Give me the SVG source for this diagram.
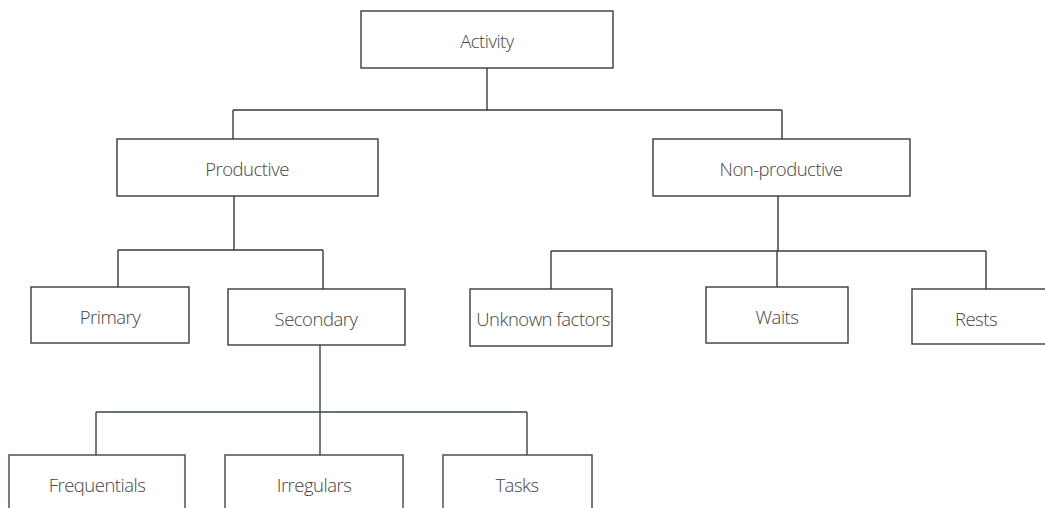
<svg xmlns="http://www.w3.org/2000/svg" width="1045" height="508" viewBox="0 0 1045 508">
  <style>
    .box { fill: #ffffff; stroke: #3a3a3a; stroke-width: 1.4; }
    .box.low { stroke: #35493f; }
    .lbl { font-family: "Open Sans", "Liberation Sans", sans-serif; font-size: 18.5px; font-weight: 300; letter-spacing: -0.5px; fill: #444444; text-anchor: middle; dominant-baseline: central; }
    .wire { fill: none; stroke: #3a3a3a; stroke-width: 1.4; }
    .wire.low { stroke: #35493f; }
  </style>
  <rect width="1045" height="508" fill="#ffffff"/>

  <!-- connectors -->
  <g id="connectors">
    <path class="wire" d="M487,68 V110 M233,110 H782 M233,110 V139 M782,110 V139"/>
    <path class="wire" d="M234,196 V250 M118,250 H323 M118,250 V287 M323,250 V289"/>
    <path class="wire" d="M778,196 V251 M551,251 H986 M551,251 V289 M777,251 V287 M986,251 V289"/>
    <path class="wire low" d="M320,345 V412 M96,412 H527 M96,412 V455 M320,412 V455 M527,412 V455"/>
  </g>

  <!-- level 1 -->
  <g id="activity">
    <rect class="box" x="361" y="11" width="252" height="57"/>
    <text class="lbl" x="487" y="40">Activity</text>
  </g>

  <!-- level 2 -->
  <g id="productive">
    <rect class="box" x="117" y="139" width="261" height="57"/>
    <text class="lbl" x="247" y="168">Productive</text>
  </g>
  <g id="non-productive">
    <rect class="box" x="653" y="139" width="257" height="57"/>
    <text class="lbl" x="781" y="168">Non-productive</text>
  </g>

  <!-- level 3 -->
  <g id="primary">
    <rect class="box" x="31" y="287" width="158" height="56"/>
    <text class="lbl" x="110" y="316">Primary</text>
  </g>
  <g id="secondary">
    <rect class="box" x="228" y="289" width="177" height="56"/>
    <text class="lbl" x="316" y="318">Secondary</text>
  </g>
  <g id="unknown-factors">
    <rect class="box" x="470" y="289" width="142" height="57"/>
    <text class="lbl" x="543" y="318">Unknown factors</text>
  </g>
  <g id="waits">
    <rect class="box" x="706" y="287" width="142" height="56"/>
    <text class="lbl" x="777" y="316">Waits</text>
  </g>
  <g id="rests">
    <rect class="box" x="912" y="289" width="136" height="55"/>
    <text class="lbl" x="976" y="318">Rests</text>
  </g>

  <!-- level 4 -->
  <g id="frequentials">
    <rect class="box low" x="9" y="455" width="176" height="60"/>
    <text class="lbl" x="97" y="484">Frequentials</text>
  </g>
  <g id="irregulars">
    <rect class="box low" x="225" y="455" width="178" height="60"/>
    <text class="lbl" x="314" y="484">Irregulars</text>
  </g>
  <g id="tasks">
    <rect class="box low" x="443" y="455" width="149" height="60"/>
    <text class="lbl" x="517" y="484">Tasks</text>
  </g>
</svg>
